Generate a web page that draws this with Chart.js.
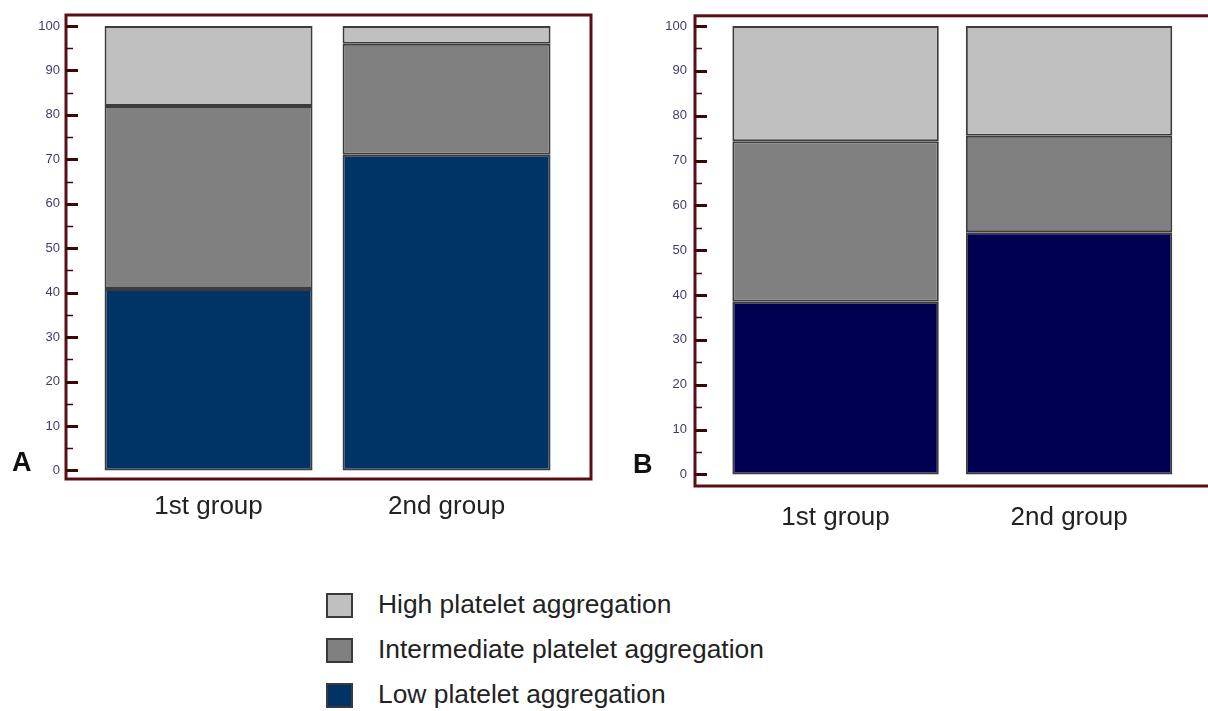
<!DOCTYPE html>
<html>
<head>
<meta charset="utf-8">
<script src="https://cdn.jsdelivr.net/npm/chart.js@4.4.0/dist/chart.umd.min.js"></script>
<style>
  body { margin: 0; background: #fff; overflow: hidden; width: 1208px; height: 711px; position: relative; font-family: 'Liberation Sans', Arial, sans-serif; }
  canvas { position: absolute; top: 0; }
  #chartA { left: 0; }
  #chartB { left: 620px; }
  .panel { position: absolute; font-weight: bold; font-size: 27px; color: #111; line-height: 1; }
  .legend { position: absolute; left: 326px; top: 593px; }
  .row { position: relative; height: 45px; }
  .box { position: absolute; left: 0; top: 0; width: 23px; height: 21px; border: 2.5px solid #3a3a3a; }
  .txt { position: absolute; left: 52px; top: -4px; font-size: 26.4px; color: #222; white-space: nowrap; }
</style>
</head>
<body>
<canvas id="chartA" width="600" height="539"></canvas>
<canvas id="chartB" width="620" height="546"></canvas>
<div class="panel" style="left:12px; top:449px;">A</div>
<div class="panel" style="left:633px; top:451px;">B</div>
<div class="legend" id="legend"></div>
<script>
// values (percent of patients)
const groups = ['1st group', '2nd group'];
const seriesNames = ['High platelet aggregation', 'Intermediate platelet aggregation', 'Low platelet aggregation'];

const lowA = [40.8, 71];
const interA = [41.2, 25];
const highA = [18, 4];

const lowB = [38.5, 54];
const interB = [35.8, 21.5];
const highB = [25.7, 24.5];

const yTickStep = 10;

const highColor = '#c0c0c0';
const interColor = '#808080';
const lowColorA = '#003366';
const lowColorB = '#000050';

// frame round the plot plus inward ticks on the value axis
const framePlugin = {
  id: 'frame',
  afterDraw(chart) {
    const { ctx, chartArea: a, scales: { y } } = chart;
    ctx.save();
    ctx.strokeStyle = '#5a0f14';
    ctx.lineWidth = 3;
    ctx.strokeRect(a.left, a.top, a.right - a.left, a.bottom - a.top);
    ctx.strokeStyle = '#3b0808';
    for (let v = 0; v <= 100; v += yTickStep / 2) {
      const py = Math.round(y.getPixelForValue(v)) + 0.5;
      const major = v % yTickStep === 0;
      ctx.lineWidth = major ? 3 : 1.5;
      ctx.beginPath();
      ctx.moveTo(a.left, py);
      ctx.lineTo(a.left + (major ? 12 : 7), py);
      ctx.stroke();
    }
    ctx.restore();
  }
};

function toPoints(vals) {
  return vals.map((v, i) => ({ x: i, y: v }));
}

function makeChart(id, low, inter, high, lowColor, cfg) {
  const common = { borderColor: '#3c3c3c', borderWidth: 2, borderSkipped: false, barPercentage: cfg.barPct, categoryPercentage: 1 };
  return new Chart(document.getElementById(id), {
    type: 'bar',
    data: {
      datasets: [
        { label: seriesNames[2], data: toPoints(low), backgroundColor: lowColor, ...common },
        { label: seriesNames[1], data: toPoints(inter), backgroundColor: interColor, ...common },
        { label: seriesNames[0], data: toPoints(high), backgroundColor: highColor, ...common }
      ]
    },
    options: {
      responsive: false,
      animation: false,
      devicePixelRatio: 1,
      layout: { padding: { top: cfg.top, right: cfg.right, left: 0, bottom: 0 } },
      plugins: { legend: { display: false }, tooltip: { enabled: false } },
      scales: {
        x: {
          type: 'linear',
          stacked: true,
          offset: false,
          min: cfg.xMin,
          max: cfg.xMax,
          grid: { display: false, drawTicks: false },
          border: { display: false },
          ticks: {
            stepSize: 1,
            includeBounds: false,
            padding: cfg.xPad,
            color: '#222',
            font: { family: "'Liberation Sans', Arial", size: 26 },
            callback: v => groups[v] !== undefined && Number.isInteger(v) ? groups[v] : ''
          },
          afterFit: s => { s.height = 60; }
        },
        y: {
          stacked: true,
          min: cfg.yMin,
          max: cfg.yMax,
          grid: { display: false, drawTicks: false },
          border: { display: false },
          ticks: {
            stepSize: yTickStep,
            includeBounds: false,
            padding: cfg.yPad,
            color: '#3d3d6b',
            font: { family: "'Liberation Sans', Arial", size: 13 }
          },
          afterFit: s => { s.width = cfg.yWidth; }
        }
      }
    },
    plugins: [framePlugin]
  });
}

makeChart('chartA', lowA, interA, highA, lowColorA, {
  top: 15, right: 9, yWidth: 66, yPad: 6, xPad: 12,
  xMin: -0.599, xMax: 1.607, barPct: 0.874,
  yMin: -1.93, yMax: 102.47
});

makeChart('chartB', lowB, interB, highB, lowColorB, {
  top: 13, right: 0, yWidth: 75, yPad: 8, xPad: 16,
  xMin: -0.602, xMax: 1.732, barPct: 0.884,
  yMin: -2.59, yMax: 102.28
});

// legend below both panels
const legendColors = [highColor, interColor, lowColorA];
const legend = document.getElementById('legend');
seriesNames.forEach((name, i) => {
  const row = document.createElement('div');
  row.className = 'row';
  row.innerHTML = '<div class="box" style="background:' + legendColors[i] + '"></div><div class="txt">' + name + '</div>';
  legend.appendChild(row);
});
</script>
</body>
</html>
